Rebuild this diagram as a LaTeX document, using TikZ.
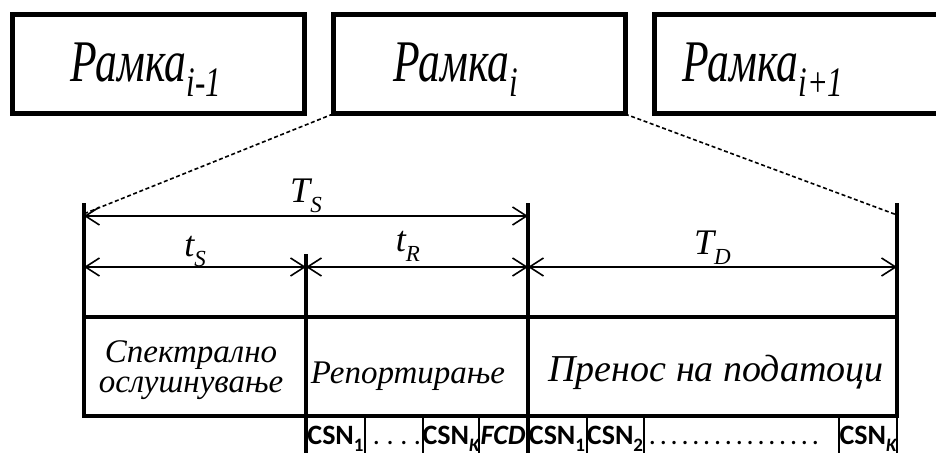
\documentclass[tikz,border=0pt]{standalone}
\usepackage{fontspec}
\usepackage{graphicx}
\setmainfont{Liberation Serif}
\newfontfamily\csnfont{Carlito}
\usetikzlibrary{arrows.meta}

% frame title with a lowered index, squeezed sideways
\newcommand\ramka[1]{\scalebox{0.74}[1]{\fontsize{29.5}{30}\selectfont\itshape Рамка\raisebox{-7.5pt}{\fontsize{21}{21}\selectfont #1}}}
% interval symbol, e.g. T with index S
\newcommand\period[3]{{\fontsize{#1}{#1}\selectfont\itshape #2\raisebox{-5pt}{\fontsize{11.5}{11.5}\selectfont #3}}}
% report slot of one secondary user
\newcommand\csn[1]{{\bfseries CSN\raisebox{-3pt}{\fontsize{9.5}{9.5}\selectfont #1}}}
% row of spaced dots: count, gap
\newcommand\dotrow[2]{\foreach \i in {1,...,#1}{\ifnum\i>1 \kern#2\fi.}}

\begin{document}
\begin{tikzpicture}[x=0.5pt, y=-0.5pt]
    \tikzstyle{frame} = [rectangle, draw, line width=2.5pt, inner sep=0pt, outer sep=0pt, minimum width=146pt, minimum height=49.5pt]
    \tikzstyle{bar} = [draw, line width=2pt, line cap=rect]
    \tikzstyle{slot} = [draw, line width=1.4pt]
    \tikzstyle{span} = [draw, line width=0.8pt, {Straight Barb[length=7pt,width=9pt]}-{Straight Barb[length=7pt,width=9pt]}]
    \tikzstyle{fan} = [draw, line width=0.8pt, dash pattern=on 2pt off 1.3pt]
    \tikzstyle{phase} = [font=\fontsize{16.5}{15}\selectfont\itshape, align=center, inner sep=0pt]
    \tikzstyle{field} = [anchor=base, inner sep=0pt, font=\csnfont\fontsize{14}{14}\selectfont]
    \tikzstyle{title} = [anchor=base, inner sep=0pt]
    \tikzstyle{symb} = [midway, anchor=base, inner sep=0pt]

    \useasboundingbox (0,0) rectangle (936,453);
    \clip (0,0) rectangle (936,453);

    % three consecutive frames
    \node [frame] (prev) at (158,64.5) {};
    \node [frame] (cur) at (479,64.5) {};
    \node [frame] (next) at (800,64.5) {};
    \node [title] (prevtxt) at (146,82) {\ramka{i-1}};
    \node [title] (curtxt) at (456,82) {\ramka{i}};
    \node [title] (nexttxt) at (763,82) {\ramka{i+1}};

    % frame i in detail
    \coordinate (l0) at (84,205);
    \coordinate (l1) at (306,256);
    \coordinate (l2) at (528,205);
    \coordinate (l3) at (897,205);
    \coordinate (k0) at (84,416);
    \coordinate (k1) at (306,453);
    \coordinate (k2) at (528,453);
    \coordinate (k3) at (897,416);
    \coordinate (k4) at (897,453);
    \coordinate (h0) at (84,317);
    \coordinate (h1) at (897,317);
    \coordinate (f0) at (86,213);
    \coordinate (f3) at (897,215);

    \draw [fan] (cur.south west) -- (f0);
    \draw [fan] (cur.south east) -- (f3);

    \draw [bar] (l0) -- (k0);
    \draw [bar] (l1) -- (k1);
    \draw [bar] (l2) -- (k2);
    \draw [bar] (l3) -- (k3);
    \draw [bar] (h0) -- (h1);
    \draw [bar] (k0) -- (k3);
    \draw [slot] (k3) -- (k4);
    \foreach \x in {365,423,479,587,644,839}
        \draw [slot] (\x,416) -- (\x,453);

    % durations
    \coordinate (s0) at (84,216);
    \coordinate (s2) at (528,216);
    \coordinate (m0) at (84,267);
    \coordinate (m1) at (306,267);
    \coordinate (m2) at (528,267);
    \coordinate (m3) at (897,267);
    \draw [span] (s0) -- node [symb, yshift=6.5pt] (Ts) {\period{18}{T}{S}} (s2);
    \draw [span] (m0) -- node [symb, yshift=5pt] (ts) {\period{18}{t}{S}} (m1);
    \draw [span] (m1) -- node [symb, yshift=7.5pt, xshift=-4.5pt] (tr) {\period{18}{t}{R}} (m2);
    \draw [span] (m2) -- node [symb, yshift=6pt] (Td) {\period{18}{T}{D}} (m3);

    % phases
    \node [phase] (sense) at (191,370) {Спектрално\\ослушнување};
    \node [phase, anchor=base] (report) at (408,384) {Репортирање};
    \node [phase, anchor=base, font=\fontsize{19}{19}\selectfont\itshape] (data) at (716,382) {Пренос на податоци};

    % report slots
    \node [field] (c1) at (335.5,445) {\csn{1}};
    \node [field] (c2) at (397,445) {\dotrow{4}{3.3pt}};
    \node [field] (c3) at (451,445) {\csn{\itshape K}};
    \node [field] (c4) at (503,445) {\bfseries\itshape FCD};
    \node [field] (c5) at (557,445) {\csn{1}};
    \node [field] (c6) at (615,445) {\csn{2}};
    \node [field] (c7) at (734,445) {\dotrow{16}{1.9pt}};
    \node [field] (c8) at (868,445) {\csn{\itshape K}};
\end{tikzpicture}
\end{document}
